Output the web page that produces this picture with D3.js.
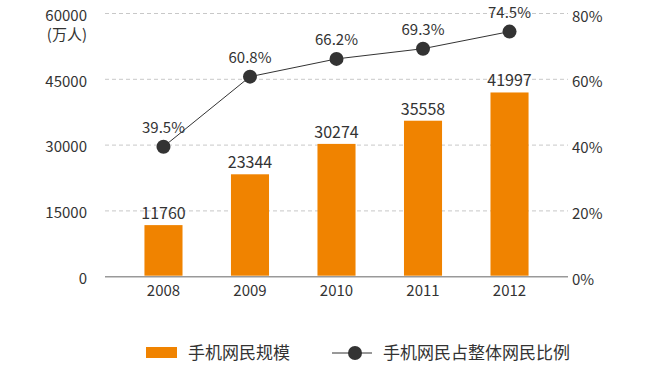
<!DOCTYPE html>
<html><head><meta charset="utf-8">
<script src="https://cdn.jsdelivr.net/npm/d3@7"></script>
<style>
body{margin:0;background:#fff;}
text{font-family:"Noto Sans CJK SC","Noto Sans",sans-serif;fill:#333;}
</style></head>
<body><svg id="c" width="650" height="371"></svg>
<script>
const years = ["2008","2009","2010","2011","2012"];
const users = [11760, 23344, 30274, 35558, 41997];
const ratio = [39.5, 60.8, 66.2, 69.3, 74.5];
const leftTicks = [0, 15000, 30000, 45000, 60000];
const rightTicks = [0, 20, 40, 60, 80];
const legendLabels = ["手机网民规模", "手机网民占整体网民比例"];
const unitLabel = "(万人)";

const svg = d3.select("#c");
const x0 = 105, x1 = 568, yTop = 13.5, yBot = 276.7;
const x = d3.scaleBand().domain(years).range([x0, x1]).paddingInner(0.56).paddingOuter(0.456);
const yL = d3.scaleLinear().domain([0, 60000]).range([yBot, yTop]);
const yR = d3.scaleLinear().domain([0, 80]).range([yBot, yTop]);
const orange = "#F08300";

// grid
svg.append("g").selectAll("line").data(leftTicks.filter(d => d > 0)).join("line")
  .attr("x1", x0).attr("x2", x1).attr("y1", d => yL(d)).attr("y2", d => yL(d))
  .attr("stroke", "#c8c8c8").attr("stroke-dasharray", "4,3").attr("stroke-width", 1);

// axis baseline
svg.append("line").attr("x1", x0).attr("x2", x1).attr("y1", yBot).attr("y2", yBot)
  .attr("stroke", "#999").attr("stroke-width", 1.5);

// left axis
const gl = svg.append("g").attr("transform", `translate(${x0 - 18},0)`)
  .call(d3.axisLeft(yL).tickValues(leftTicks).tickSize(0).tickPadding(0).tickFormat(d3.format("d")));
gl.select(".domain").remove();
gl.selectAll("text").style("font-size", "15px").attr("dy", "0.45em").attr("fill", "#333");
svg.append("text").attr("x", 87).attr("y", 40).attr("text-anchor", "end")
  .style("font-size", "15px").text(unitLabel);

// right axis
const gr = svg.append("g").attr("transform", `translate(${x1 + 4},0)`)
  .call(d3.axisRight(yR).tickValues(rightTicks).tickSize(0).tickPadding(0).tickFormat(d => d + "%"));
gr.select(".domain").remove();
gr.selectAll("text").style("font-size", "15px").attr("dy", "0.5em").attr("fill", "#333");

// x axis labels
const gx = svg.append("g").attr("transform", `translate(0,${yBot})`)
  .call(d3.axisBottom(x).tickSize(0).tickPadding(9));
gx.select(".domain").remove();
gx.selectAll("text").style("font-size", "15px").attr("fill", "#333");

// bars
svg.append("g").selectAll("rect").data(users).join("rect")
  .attr("x", (d, i) => x(years[i])).attr("width", x.bandwidth())
  .attr("y", d => yL(d)).attr("height", d => yBot - 1 - yL(d))
  .attr("fill", orange);
svg.append("g").selectAll("text").data(users).join("text")
  .attr("x", (d, i) => x(years[i]) + x.bandwidth() / 2).attr("y", d => yL(d) - 6)
  .attr("text-anchor", "middle").style("font-size", "16px").text(d => d);

// line
const cx = (d, i) => x(years[i]) + x.bandwidth() / 2;
const line = d3.line().x((d, i) => cx(d, i)).y(d => yR(d));
svg.append("path").datum(ratio).attr("d", line).attr("fill", "none")
  .attr("stroke", "#333").attr("stroke-width", 1);
svg.append("g").selectAll("circle").data(ratio).join("circle")
  .attr("cx", cx).attr("cy", d => yR(d)).attr("r", 7).attr("fill", "#333");
svg.append("g").selectAll("text").data(ratio).join("text")
  .attr("x", cx).attr("y", d => yR(d) - 14)
  .attr("text-anchor", "middle").style("font-size", "15px").text(d => d.toFixed(1) + "%");

// legend
const lg = svg.append("g");
lg.append("rect").attr("x", 146).attr("y", 347).attr("width", 31).attr("height", 11).attr("fill", orange);
lg.append("text").attr("x", 188).attr("y", 359).style("font-size", "17px").text(legendLabels[0]);
lg.append("line").attr("x1", 332).attr("x2", 372).attr("y1", 353).attr("y2", 353).attr("stroke", "#333").attr("stroke-width", 1);
lg.append("circle").attr("cx", 355).attr("cy", 353).attr("r", 7).attr("fill", "#333");
lg.append("text").attr("x", 383).attr("y", 359).style("font-size", "17px").text(legendLabels[1]);
</script></body></html>
